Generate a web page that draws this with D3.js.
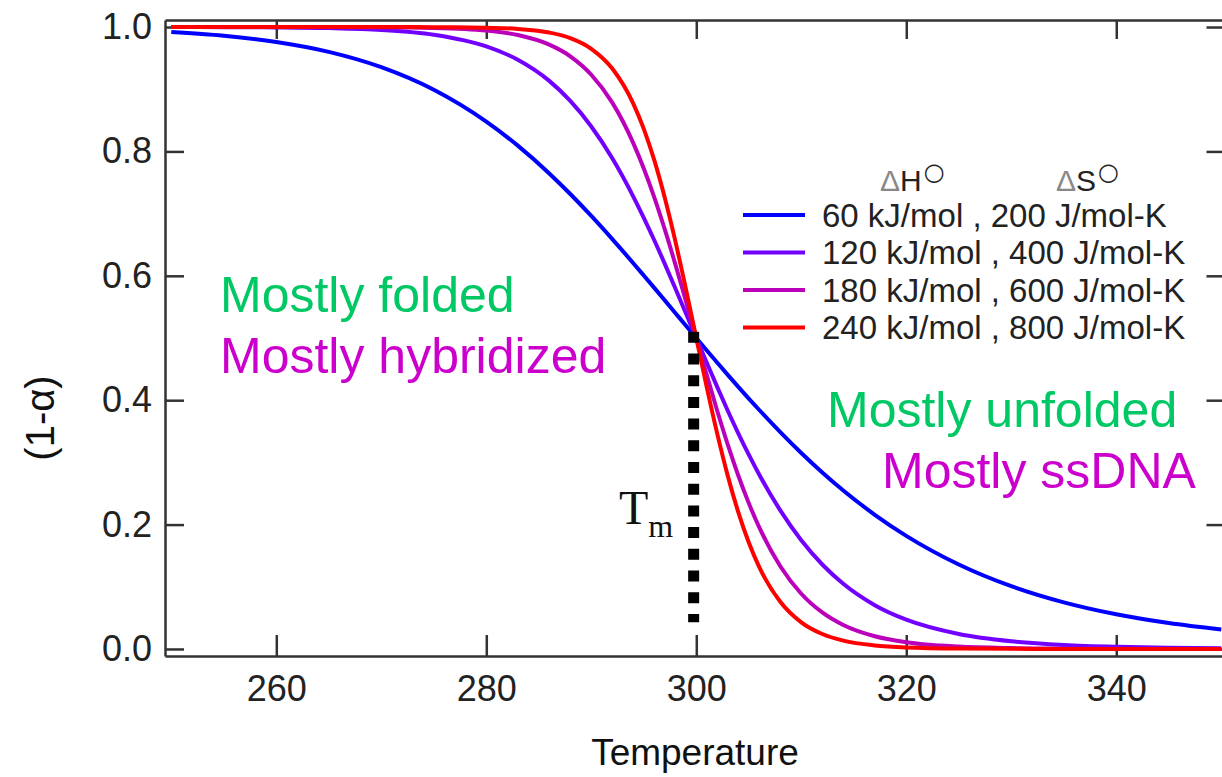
<!DOCTYPE html>
<html>
<head>
<meta charset="utf-8">
<script src="https://cdn.jsdelivr.net/npm/d3@7"></script>
<style>
  body { margin: 0; background: #fff; }
  svg { display: block; }
  text { font-family: "Liberation Sans", Arial, Helvetica, sans-serif; }
</style>
</head>
<body>
<div id="chart"></div>
<script>
const temps = [250, 255, 260, 265, 270, 275, 280, 283, 286, 288, 290, 292, 294, 295, 296, 297, 298, 299, 300,
               301, 302, 303, 304, 305, 306, 308, 310, 312, 314, 317, 320, 325, 330, 335, 340, 345, 350]

// fraction folded (1-alpha) for each curve
const blueVals = [0.9919, 0.9859, 0.9759, 0.9600, 0.9354, 0.8991, 0.8479, 0.8093, 0.7646, 0.7315, 0.6962, 0.6590, 0.6203, 0.6005, 0.5806, 0.5605, 0.5403, 0.5201, 0.5,
                  0.4800, 0.4603, 0.4407, 0.4215, 0.4026, 0.3842, 0.3487, 0.3152, 0.2839, 0.2549, 0.2158, 0.1819, 0.1358, 0.1009, 0.0749, 0.0557, 0.0416, 0.0312]
const purpleVals = [0.9999, 0.9998, 0.9994, 0.9983, 0.9953, 0.9876, 0.9688, 0.9474, 0.9134, 0.8812, 0.8401, 0.7889, 0.7274, 0.6932, 0.6571, 0.6192, 0.5800, 0.5401, 0.5,
                    0.4602, 0.4210, 0.3831, 0.3468, 0.3124, 0.2802, 0.2228, 0.1748, 0.1358, 0.1048, 0.0704, 0.0471, 0.0241, 0.0124, 0.0065, 0.0035, 0.0019, 0.0010]
const magentaVals = [1.0, 1.0, 1.0, 0.9999, 0.9997, 0.9986, 0.9943, 0.9871, 0.9716, 0.9529, 0.9233, 0.8784, 0.8134, 0.7726, 0.7262, 0.6746, 0.6188, 0.5600, 0.5,
                     0.4403, 0.3827, 0.3286, 0.2790, 0.2345, 0.1954, 0.1330, 0.0888, 0.0587, 0.0385, 0.0204, 0.0109, 0.0039, 0.0014, 0.0005, 0.0002, 0.0001, 0.0]
const redVals = [1.0, 1.0, 1.0, 1.0, 1.0, 0.9998, 0.9990, 0.9969, 0.9911, 0.9822, 0.9650, 0.9332, 0.8769, 0.8363, 0.7859, 0.7255, 0.6561, 0.5797, 0.5,
                 0.4207, 0.3459, 0.2783, 0.2199, 0.1711, 0.1316, 0.0759, 0.0429, 0.0241, 0.0135, 0.0057, 0.0024, 0.0006, 0.0002, 0.0, 0.0, 0.0, 0.0]

const seriesNames = ["60 kJ/mol , 200 J/mol-K", "120 kJ/mol , 400 J/mol-K", "180 kJ/mol , 600 J/mol-K", "240 kJ/mol , 800 J/mol-K"]
const seriesColors = ["#0000ff", "#7200ff", "#bb00bb", "#ff0000"]
const seriesValues = [blueVals, purpleVals, magentaVals, redVals]

const xTicks = [260, 280, 300, 320, 340]
const yTicks = [0, 0.2, 0.4, 0.6, 0.8, 1.0]

// dotted melting temperature marker
const tmT = 299.75
const tmRange = [0.043, 0.51]

const width = 1222, height = 777
const frame = { left: 165, right: 1223.5, top: 20, bottom: 656 }

const svg = d3.select("#chart").append("svg")
    .attr("width", width)
    .attr("height", height)

const xScale = d3.scaleLinear([249.4, 350.07], [frame.left, 1222])
const yScale = d3.scaleLinear([-0.0113, 1.0113], [frame.bottom, frame.top])

// axes, ticks point inward on all four sides
function styleAxis(g) {
    g.select(".domain").attr("stroke", "#333").attr("stroke-width", 2.5)
    g.selectAll(".tick line").attr("stroke", "#333").attr("stroke-width", 2.5)
    g.selectAll(".tick text").attr("fill", "#222").style("font-size", "36px")
        .style("font-family", "'Liberation Sans', Arial, sans-serif")
}

svg.append("g")
    .attr("transform", `translate(0,${frame.bottom})`)
    .call(d3.axisBottom(xScale).tickValues(xTicks).tickSizeInner(-21).tickSizeOuter(0).tickPadding(19).tickFormat(d3.format("d")))
    .call(styleAxis)

svg.append("g")
    .attr("transform", `translate(0,${frame.top})`)
    .call(d3.axisTop(xScale).tickValues(xTicks).tickSizeInner(-19).tickSizeOuter(0).tickFormat(""))
    .call(styleAxis)

svg.append("g")
    .attr("transform", `translate(${frame.left},0)`)
    .call(d3.axisLeft(yScale).tickValues(yTicks).tickSizeInner(-19).tickSizeOuter(0).tickPadding(13).tickFormat(d3.format(".1f")))
    .call(styleAxis)

svg.append("g")
    .attr("transform", `translate(${frame.right},0)`)
    .call(d3.axisRight(yScale).tickValues(yTicks).tickSizeInner(-17).tickSizeOuter(0).tickFormat(""))
    .call(styleAxis)

// curves
const line = d3.line()
    .x(d => xScale(d[0]))
    .y(d => yScale(d[1]))
    .curve(d3.curveMonotoneX)

seriesValues.forEach((vals, i) => {
    svg.append("path")
        .datum(d3.zip(temps, vals))
        .attr("fill", "none")
        .attr("stroke", seriesColors[i])
        .attr("stroke-width", 4)
        .attr("d", line)
})

// Tm marker
svg.append("line")
    .attr("x1", xScale(tmT)).attr("x2", xScale(tmT))
    .attr("y1", yScale(tmRange[1])).attr("y2", yScale(tmRange[0]))
    .attr("stroke", "#000")
    .attr("stroke-width", 11)
    .attr("stroke-dasharray", "11,10.7")

const tm = svg.append("text")
    .attr("x", 619).attr("y", 524)
    .style("font-family", "'Liberation Serif', 'Times New Roman', serif")
    .style("font-size", "48px")
    .attr("fill", "#111")
tm.append("tspan").text("T")
tm.append("tspan").attr("dy", 13).style("font-size", "32px").text("m")

// legend
const legend = svg.append("g")
const headers = [{ x: 880, letter: "H" }, { x: 1056, letter: "S" }]
headers.forEach(h => {
    const t = legend.append("text").attr("x", h.x).attr("y", 191).style("font-size", "30px").attr("fill", "#222")
    t.append("tspan").attr("fill", "#888").text("Δ")
    t.append("tspan").text(h.letter)
    t.append("tspan").attr("dy", -11).attr("dx", 2).style("font-size", "24px").style("font-family", "'DejaVu Sans', sans-serif").text("○")
})

seriesNames.forEach((name, i) => {
    const y = 215 + i * 37.5
    legend.append("line")
        .attr("x1", 743).attr("x2", 805)
        .attr("y1", y).attr("y2", y)
        .attr("stroke", seriesColors[i])
        .attr("stroke-width", 4)
    legend.append("text")
        .attr("x", 822).attr("y", y)
        .attr("dy", "0.36em")
        .style("font-size", "33px")
        .attr("fill", "#222")
        .text(name)
})

// state annotations
const notes = [
    { text: "Mostly folded", x: 220, y: 312, color: "#00c864" },
    { text: "Mostly hybridized", x: 220, y: 373, color: "#cc00cc" },
    { text: "Mostly unfolded", x: 827, y: 427, color: "#00c864" },
    { text: "Mostly ssDNA", x: 882, y: 488, color: "#cc00cc" }
]
svg.selectAll(".note")
    .data(notes)
    .join("text")
    .attr("class", "note")
    .attr("x", d => d.x)
    .attr("y", d => d.y)
    .attr("fill", d => d.color)
    .style("font-size", "50px")
    .text(d => d.text)

// axis titles
svg.append("text")
    .attr("x", 695).attr("y", 765)
    .attr("text-anchor", "middle")
    .style("font-size", "37px")
    .attr("fill", "#111")
    .text("Temperature")

svg.append("text")
    .attr("transform", "translate(40,418) rotate(-90)")
    .attr("text-anchor", "middle")
    .attr("dy", "0.35em")
    .style("font-size", "40px")
    .attr("fill", "#111")
    .text("(1-α)")
</script>
</body>
</html>
